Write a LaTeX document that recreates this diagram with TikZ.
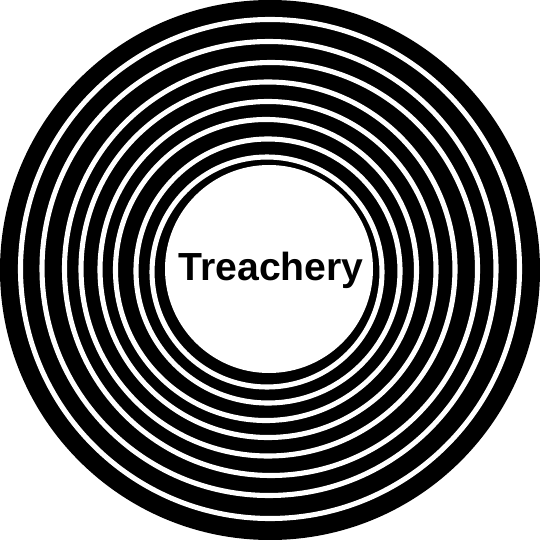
\documentclass[tikz,border=0pt]{standalone}
\usepackage{fontspec}
\setmainfont{Liberation Sans}
\usepackage{tikz}
\tikzset{
  gapline/.style={draw=white, line width=2.9pt},
  coredisc/.style={fill=white},
  titletext/.style={font=\fontsize{22.3}{26}\selectfont\bfseries, text=black}
}

\begin{document}
\begin{tikzpicture}[x=0.02cm, y=-0.02cm]
  \useasboundingbox (0,0) rectangle (540,540);
  % outer black disc
  \fill[black] (270,270) circle (270);
  % white gaps between the rings
  \foreach \cx/\cy/\r in {270/269/249.5, 269/268.5/227, 271/269/206.5, 268/269/187,
                          268/269.5/168, 266/270/150.5, 268/271/132, 267/272/115}
    \draw[gapline] (\cx,\cy) circle (\r);
  % inner white disc
  \fill[coredisc] (269,269) circle (104);
  \node[titletext] (title) at (271,270) {Treachery};
\end{tikzpicture}
\end{document}
